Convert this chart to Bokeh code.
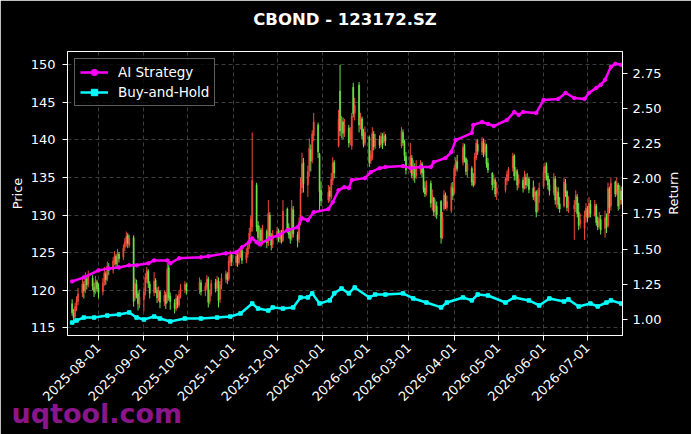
import math
import re
import pandas as pd
from bokeh.plotting import figure
from bokeh.models import (Range1d, LinearAxis, FixedTicker, DatetimeTickFormatter, Title, Label,
                          NumeralTickFormatter, Legend, LegendItem, ColumnDataSource)
from bokeh.embed import file_html
from bokeh.resources import INLINE

title_text = "CBOND - 123172.SZ"
month_ticks = ["2025-08-01", "2025-09-01", "2025-10-01", "2025-11-01", "2025-12-01", "2026-01-01",
               "2026-02-01", "2026-03-01", "2026-04-01", "2026-05-01", "2026-06-01", "2026-07-01"]
price_ticks = [115, 120, 125, 130, 135, 140, 145, 150]
return_ticks = [1.00, 1.25, 1.50, 1.75, 2.00, 2.25, 2.50, 2.75]
holidays = ["2025-10-01", "2025-10-02", "2025-10-03", "2025-10-06", "2025-10-07", "2025-10-08",
            "2026-01-01", "2026-01-02", "2026-02-16", "2026-02-17", "2026-02-18", "2026-02-19",
            "2026-02-20", "2026-02-23", "2026-04-06", "2026-05-01", "2026-05-04", "2026-05-05",
            "2026-06-19"]

open_ = [
    118.2, 117.0, 116.5, 117.6, 118.5, 119.6, 120.8, 119.9, 121.5, 120.8,
    121.6, 120.4, 119.9, 121.1, 120.3, 119.8, 121.1, 122.2, 121.5, 123.0,
    122.7, 123.8, 124.5, 123.6, 124.8, 124.4, 125.7, 126.3, 127.3, 126.0,
    127.0, 119.0, 120.8, 119.5, 118.0, 118.8, 119.9, 121.5, 122.5, 120.8,
    119.7, 121.3, 120.0, 118.9, 119.8, 118.5, 119.4, 118.6, 123.0, 119.2,
    118.3, 117.5, 119.0, 118.0, 119.3, 120.1, 120.7, 120.0, 121.0,
    119.9, 120.4, 121.5, 118.5, 119.5, 121.0, 120.3, 121.2, 118.8, 120.6,
    121.5, 122.2, 121.5, 123.7, 124.7, 123.7, 124.6, 123.7, 124.8, 125.3,
    124.1, 124.8, 125.9, 127.8, 128.4, 134.0, 128.6, 126.8, 128.0, 126.5,
    127.8, 126.4, 130.0, 127.2, 126.1, 127.2, 127.9, 126.8, 127.7, 126.6,
    130.8, 128.3, 127.5, 127.0, 130.7, 127.4, 126.8, 129.0, 133.6, 137.0,
    134.0, 135.9, 138.7, 137.4, 140.6, 142.0, 138.1, 133.3,
    132.0, 133.2, 132.4, 134.6, 137.0, 139.2, 146.5, 141.4, 142.4, 141.0,
    141.6, 140.0, 139.2, 147.0, 143.6, 147.3, 142.3, 142.8, 140.8, 139.6,
    140.4, 137.2, 137.6, 140.8, 139.2, 140.0, 139.4, 140.4, 139.7, 140.5,
    139.2, 141.0, 139.8, 137.8,
    136.2, 137.6, 135.5, 136.4, 135.2, 135.8, 136.8, 136.0, 133.6, 133.0,
    134.2, 131.8, 132.3, 130.6, 131.2, 131.8, 127.3, 130.8, 132.6, 131.0,
    130.6, 133.6, 133.0, 136.0, 137.1, 137.0, 139.3, 137.5, 135.9,
    136.2, 134.5, 134.2, 137.6, 139.4, 138.4, 139.6, 138.4, 139.2, 136.9,
    135.6, 134.2, 134.6, 132.9, 133.3, 134.6, 135.2,
    136.3, 137.9, 135.4, 135.8, 134.2, 134.6, 133.8, 135.0, 134.2, 134.8,
    133.6, 132.6, 133.1, 130.6, 132.6, 133.8, 135.6, 136.6, 135.2, 134.0,
    133.0, 134.8, 132.2, 133.0, 131.5, 131.2, 134.2, 133.1, 131.2,
    130.8, 131.4, 132.4, 130.4, 128.8, 128.2, 129.8, 130.8, 129.8, 131.5,
    130.0, 131.2, 129.2, 128.6, 129.4, 128.2, 129.8, 128.6, 133.4, 131.2,
    134.4, 133.0, 134.0, 131.4, 133.2]
high_ = [
    118.8, 117.5, 118.3, 119.2, 120.3, 121.5, 121.2, 122.4, 121.8, 122.6,
    122.0, 121.0, 121.9, 121.4, 120.9, 121.6, 123.1, 122.5, 123.8, 123.6,
    124.4, 125.2, 124.8, 125.5, 125.1, 126.1, 126.9, 127.8, 127.6, 127.4,
    127.3, 121.6, 121.4, 119.9, 120.1, 120.4, 122.3, 123.1, 122.8, 121.2,
    122.4, 121.6, 120.4, 120.5, 120.0, 120.0, 119.8, 123.6, 123.4, 119.7,
    118.8, 119.5, 119.3, 120.0, 120.8, 121.2, 121.0, 121.7, 121.4,
    121.0, 122.0, 121.8, 120.1, 121.4, 121.5, 121.9, 121.7, 121.2, 122.2,
    122.6, 122.4, 124.5, 125.3, 125.0, 125.0, 125.0, 125.5, 125.7, 125.6,
    125.6, 126.4, 128.3, 129.9, 141.0, 134.3, 129.2, 128.6, 128.3, 128.7,
    128.1, 132.0, 130.4, 127.6, 128.0, 128.4, 128.2, 128.0, 128.0, 132.0,
    131.0, 128.9, 127.9, 132.0, 131.2, 127.8, 129.7, 135.0, 138.3, 137.6,
    136.6, 140.2, 139.4, 141.3, 143.6, 142.3, 138.3, 134.5,
    134.0, 133.8, 135.6, 137.7, 137.3, 144.0, 150.0, 143.2, 143.0, 142.8,
    142.0, 141.7, 143.6, 147.6, 145.6, 147.7, 143.6, 143.1, 141.5, 141.8,
    140.6, 138.6, 141.7, 141.2, 140.8, 140.6, 141.0, 140.9, 141.1, 140.8,
    141.7, 141.4, 140.0, 138.4,
    139.6, 138.0, 137.3, 136.9, 137.3, 137.3, 137.1, 136.4, 134.5, 134.6,
    134.6, 133.4, 132.4, 132.1, 131.8, 132.0, 130.4, 133.3, 133.0, 132.6,
    134.3, 134.4, 136.6, 137.7, 138.0, 139.6, 139.5, 137.7, 137.4,
    136.5, 135.6, 138.3, 140.0, 140.1, 140.4, 140.2, 140.0, 139.5, 137.6,
    135.7, 135.4, 134.9, 134.4, 135.0, 135.9, 136.4,
    138.3, 138.1, 136.4, 136.1, 135.4, 135.0, 135.9, 135.5, 135.6, 135.1,
    134.6, 133.8, 133.3, 133.4, 134.3, 136.4, 137.0, 137.0, 135.6, 134.8,
    135.6, 135.2, 133.8, 133.7, 132.4, 135.0, 134.8, 133.3, 132.5,
    132.0, 133.3, 132.8, 131.6, 130.2, 130.6, 131.6, 131.2, 132.4, 132.0,
    132.0, 131.5, 129.8, 130.4, 130.0, 130.6, 130.2, 134.3, 133.8, 135.0,
    134.6, 135.0, 134.3, 134.0, 133.8]
low_ = [
    116.6, 115.8, 116.1, 117.2, 118.0, 119.1, 118.9, 119.6, 120.1, 120.4,
    120.0, 119.1, 119.5, 119.8, 118.9, 119.3, 120.6, 120.7, 121.2, 122.0,
    122.2, 123.3, 123.0, 123.2, 123.7, 124.0, 125.2, 125.8, 125.6, 125.7,
    117.8, 118.6, 118.9, 117.3, 117.6, 117.2, 119.3, 121.0, 120.3, 118.9,
    119.2, 119.6, 118.3, 118.5, 117.6, 117.9, 117.5, 118.3, 118.6, 117.4,
    116.9, 117.2, 117.6, 117.7, 118.9, 119.6, 119.4, 119.5, 119.3,
    119.2, 120.0, 117.7, 118.1, 119.2, 119.7, 119.9, 117.7, 118.3, 120.1,
    121.0, 120.8, 121.2, 123.2, 123.2, 123.2, 123.1, 123.4, 124.3, 123.5,
    123.6, 124.3, 125.5, 127.2, 127.8, 127.8, 126.2, 126.3, 125.8, 126.0,
    125.6, 125.9, 126.6, 125.3, 125.6, 126.6, 126.4, 126.3, 126.2, 126.4,
    127.6, 126.9, 126.2, 126.6, 127.0, 125.7, 126.3, 128.6, 132.9, 133.0,
    132.4, 135.1, 135.8, 136.9, 139.8, 137.6, 130.6, 131.2,
    131.6, 131.8, 132.1, 134.0, 134.9, 139.0, 140.5, 140.2, 140.1, 140.4,
    139.0, 139.3, 138.7, 143.0, 142.6, 141.0, 141.4, 140.1, 139.0, 139.2,
    136.4, 136.8, 137.3, 138.6, 138.8, 138.9, 139.0, 138.8, 139.3, 139.2,
    138.9, 139.2, 137.2, 135.4,
    135.6, 134.9, 134.6, 134.3, 134.8, 135.4, 135.0, 133.0, 132.4, 132.6,
    131.0, 130.6, 129.9, 129.7, 129.5, 126.2, 126.8, 130.6, 130.8, 130.6,
    130.3, 132.0, 132.8, 135.2, 135.8, 136.6, 137.0, 135.3, 135.0,
    133.9, 133.7, 133.9, 137.3, 138.0, 138.0, 137.7, 137.9, 136.3, 135.6,
    133.3, 133.6, 132.4, 132.0, 133.0, 134.0, 134.5,
    135.8, 134.6, 134.6, 133.3, 133.6, 133.0, 133.4, 133.5, 133.8, 132.9,
    132.0, 131.8, 129.7, 130.3, 131.6, 133.5, 134.6, 134.6, 133.4, 132.6,
    132.6, 131.4, 131.0, 130.8, 130.3, 131.0, 132.4, 130.5, 130.3,
    126.7, 130.4, 129.7, 128.0, 128.2, 126.7, 129.0, 129.1, 129.6, 129.7,
    129.8, 128.6, 128.0, 128.2, 127.4, 127.0, 127.6, 128.3, 130.2, 130.6,
    132.4, 132.6, 130.6, 130.8, 131.4]
close_ = [
    117.0, 116.3, 117.8, 118.6, 119.5, 120.8, 119.9, 121.6, 120.7, 121.9,
    120.5, 119.8, 121.3, 120.2, 119.6, 121.0, 122.3, 121.4, 123.2, 122.6,
    123.9, 124.6, 123.5, 124.9, 124.2, 125.6, 126.4, 127.1, 126.2, 126.9,
    118.5, 120.9, 119.4, 118.2, 119.1, 119.8, 121.7, 122.6, 120.9, 119.6,
    121.2, 120.1, 119.0, 119.9, 118.4, 119.3, 118.2, 122.8, 119.0, 118.5,
    117.6, 118.9, 118.1, 119.4, 120.2, 120.8, 119.9, 121.1, 119.8,
    120.5, 121.4, 118.4, 119.6, 120.9, 120.2, 121.3, 118.6, 120.7, 121.6,
    122.1, 121.4, 123.9, 124.6, 123.8, 124.5, 123.6, 124.9, 125.2, 124.0,
    124.9, 125.8, 127.6, 129.4, 134.6, 128.4, 127.0, 127.9, 126.6, 128.1,
    126.3, 130.2, 127.1, 126.0, 127.4, 127.8, 126.9, 127.6, 126.5, 130.5,
    128.2, 127.4, 126.8, 130.9, 127.5, 126.6, 128.9, 133.5, 136.8, 134.2,
    135.8, 138.9, 137.2, 140.8, 142.4, 138.4, 133.1, 131.9,
    133.0, 132.5, 134.8, 136.9, 135.6, 142.8, 141.2, 142.6, 140.9, 142.0,
    139.6, 141.1, 143.2, 143.5, 144.6, 142.0, 143.0, 140.6, 139.4, 141.0,
    137.0, 138.0, 140.9, 139.1, 140.2, 139.3, 140.5, 139.6, 140.6, 139.9,
    141.2, 139.6, 137.9, 136.0,
    137.8, 135.3, 136.6, 135.0, 136.5, 136.9, 135.6, 133.4, 132.8, 134.0,
    131.6, 132.6, 130.4, 131.4, 130.0, 127.0, 129.6, 132.7, 131.2, 131.8,
    133.8, 132.6, 136.2, 137.3, 136.2, 139.0, 137.4, 135.8, 136.8,
    134.4, 134.0, 137.8, 139.6, 138.5, 139.8, 138.2, 139.4, 136.8, 136.0,
    134.0, 134.8, 132.8, 133.6, 134.8, 135.4, 136.1,
    137.8, 135.2, 136.0, 134.0, 134.8, 133.6, 135.2, 134.0, 135.0, 133.4,
    132.4, 133.0, 130.4, 132.8, 133.6, 135.8, 136.5, 135.0, 134.0, 133.2,
    134.9, 132.0, 133.2, 131.4, 130.8, 134.4, 133.0, 131.0, 131.8,
    131.3, 132.6, 130.2, 128.6, 129.4, 130.0, 130.9, 129.6, 131.6, 130.2,
    131.4, 129.0, 128.4, 129.6, 128.0, 129.6, 128.4, 133.6, 131.0, 134.2,
    132.8, 134.2, 131.2, 133.4, 132.0]

ai_dates = ["2025-07-14", "2025-07-22", "2025-08-01", "2025-08-08", "2025-08-15", "2025-08-22",
            "2025-08-27", "2025-09-04", "2025-09-08", "2025-09-17", "2025-09-19", "2025-09-25",
            "2025-10-10", "2025-10-15", "2025-10-27", "2025-11-03", "2025-11-07", "2025-11-12",
            "2025-11-14", "2025-11-17", "2025-11-19", "2025-11-26", "2025-12-02", "2025-12-08",
            "2025-12-15", "2025-12-18", "2025-12-22", "2025-12-26", "2026-01-05", "2026-01-08",
            "2026-01-12", "2026-01-16", "2026-01-19", "2026-01-21", "2026-01-30", "2026-02-03",
            "2026-02-09", "2026-02-13", "2026-02-25", "2026-03-02", "2026-03-09", "2026-03-16",
            "2026-03-18", "2026-03-26", "2026-03-30", "2026-04-02", "2026-04-13", "2026-04-14",
            "2026-04-20", "2026-04-24", "2026-04-28", "2026-05-07", "2026-05-12", "2026-05-15",
            "2026-05-18", "2026-05-27", "2026-06-01", "2026-06-11", "2026-06-16", "2026-06-22",
            "2026-06-29", "2026-07-02", "2026-07-07", "2026-07-10", "2026-07-13", "2026-07-17",
            "2026-07-20", "2026-07-24"]
ai_values = [1.269, 1.298, 1.348, 1.362, 1.369, 1.384, 1.384, 1.398, 1.419, 1.419, 1.398, 1.434,
             1.441, 1.448, 1.469, 1.476, 1.512, 1.550, 1.576, 1.548, 1.534, 1.576, 1.598, 1.634,
             1.655, 1.719, 1.705, 1.762, 1.784, 1.834, 1.919, 1.941, 1.934, 1.991, 2.005, 2.048,
             2.076, 2.084, 2.091, 2.076, 2.084, 2.084, 2.119, 2.148, 2.191, 2.276, 2.326, 2.384,
             2.405, 2.391, 2.376, 2.419, 2.476, 2.455, 2.476, 2.469, 2.562, 2.569, 2.612, 2.576,
             2.569, 2.612, 2.648, 2.669, 2.705, 2.798, 2.819, 2.812]

bh_dates = ["2025-07-14", "2025-07-17", "2025-07-22", "2025-07-29", "2025-08-07", "2025-08-15",
            "2025-08-22", "2025-08-27", "2025-09-01", "2025-09-08", "2025-09-12", "2025-09-19",
            "2025-09-29", "2025-10-10", "2025-10-21", "2025-10-30", "2025-11-06", "2025-11-14",
            "2025-11-18", "2025-11-25", "2025-11-28", "2025-12-05", "2025-12-12", "2025-12-17",
            "2025-12-22", "2025-12-25", "2025-12-30", "2026-01-06", "2026-01-09", "2026-01-14",
            "2026-01-19", "2026-01-23", "2026-02-02", "2026-02-06", "2026-02-13", "2026-02-25",
            "2026-03-04", "2026-03-13", "2026-03-23", "2026-03-27", "2026-04-07", "2026-04-13",
            "2026-04-17", "2026-04-24", "2026-05-06", "2026-05-12", "2026-05-22", "2026-05-29",
            "2026-06-05", "2026-06-15", "2026-06-18", "2026-06-25", "2026-07-03", "2026-07-08",
            "2026-07-14", "2026-07-17", "2026-07-24"]
bh_values = [0.976, 0.991, 1.012, 1.012, 1.026, 1.034, 1.048, 1.012, 0.998, 1.019, 1.005, 0.984,
             1.005, 1.005, 1.012, 1.019, 1.041, 1.112, 1.076, 1.062, 1.084, 1.076, 1.084, 1.155,
             1.155, 1.184, 1.112, 1.134, 1.184, 1.219, 1.184, 1.226, 1.155, 1.176, 1.176, 1.184,
             1.148, 1.119, 1.084, 1.119, 1.155, 1.134, 1.176, 1.169, 1.119, 1.155, 1.134, 1.098,
             1.148, 1.126, 1.141, 1.091, 1.112, 1.091, 1.119, 1.134, 1.112]

# ---------------------------------------------------------------- data prep
dates = pd.bdate_range("2025-07-14", "2026-07-24")
dates = dates[~dates.isin(pd.to_datetime(holidays))]
n = min(len(dates), len(open_), len(high_), len(low_), len(close_))
UP, DOWN = "#f2493c", "#6de34a"
colors = [UP if c >= o else DOWN for o, c in zip(open_[:n], close_[:n])]
candles = ColumnDataSource(dict(
    x=list(dates[:n]), low=low_[:n], high=high_[:n],
    top=[max(o, c) for o, c in zip(open_[:n], close_[:n])],
    bottom=[min(o, c) for o, c in zip(open_[:n], close_[:n])],
    color=colors))

na = min(len(ai_dates), len(ai_values))
nb = min(len(bh_dates), len(bh_values))
ai_src = ColumnDataSource(dict(x=list(pd.to_datetime(ai_dates[:na])), y=ai_values[:na]))
bh_src = ColumnDataSource(dict(x=list(pd.to_datetime(bh_dates[:nb])), y=bh_values[:nb]))

# ---------------------------------------------------------------- figure
FONT = "DejaVu Sans"
W, H = 691, 434
ML, MR, MT, MB = 67, 69, 51, 99

p = figure(width=W, height=H, x_axis_type="datetime", output_backend="svg",
           toolbar_location=None,
           x_range=Range1d(pd.Timestamp("2025-07-10 20:00"), pd.Timestamp("2026-07-24 22:00")),
           y_range=Range1d(113.97, 151.77),
           min_border_left=ML, min_border_right=MR, min_border_top=MT, min_border_bottom=MB,
           background_fill_color="black", border_fill_color="black",
           outline_line_color="white", outline_line_width=1)
p.extra_y_ranges = {"ret": Range1d(0.884, 2.907)}

# title (outer) with a thin spacer between it and the frame
p.title = Title(text=title_text, align="center", vertical_align="bottom", standoff=0,
                text_color="white", text_font=FONT, text_font_style="bold",
                text_font_size="16.5px")
p.add_layout(Title(text=" ", text_font_size="2px", standoff=19, text_color="black"), "above")

# grid
for g in (p.xgrid, p.ygrid):
    g.grid_line_color = "#4d4d4d"
    g.grid_line_dash = "4 3"
    g.grid_line_width = 0.8

# candles
p.segment(x0="x", y0="low", x1="x", y1="high", line_color="color", line_width=1, source=candles)
p.vbar(x="x", width=0.7 * 86400000, top="top", bottom="bottom",
       fill_color="color", line_color="color", line_width=0.6, source=candles)

# return lines
l1 = p.line("x", "y", source=ai_src, y_range_name="ret", line_color="#ff00ff", line_width=2.5)
s1 = p.scatter("x", "y", source=ai_src, y_range_name="ret", marker="circle", size=3.5,
               fill_color="#ff00ff", line_color="#ff00ff")
l2 = p.line("x", "y", source=bh_src, y_range_name="ret", line_color="#00ffff", line_width=2.5)
s2 = p.scatter("x", "y", source=bh_src, y_range_name="ret", marker="square", size=3.5,
               fill_color="#00ffff", line_color="#00ffff")

# axes
ms_ticks = [pd.Timestamp(d).value // 10**6 for d in month_ticks]
xa = p.xaxis[0]
xa.ticker = FixedTicker(ticks=ms_ticks)
fmt = "%Y-%m-%d"
xa.formatter = DatetimeTickFormatter(days=fmt, months=fmt, years=fmt, hours=fmt,
                                     hourmin=fmt, minutes=fmt, minsec=fmt, seconds=fmt,
                                     milliseconds=fmt, microseconds=fmt)
xa.major_label_orientation = math.pi / 4

ya = p.yaxis[0]
ya.ticker = FixedTicker(ticks=price_ticks)

ra = LinearAxis(y_range_name="ret", ticker=FixedTicker(ticks=return_ticks),
                formatter=NumeralTickFormatter(format="0.00"))
p.add_layout(ra, "right")

for ax in (xa, ya, ra):
    ax.axis_line_color = "white"
    ax.major_tick_line_color = "white"
    ax.minor_tick_line_color = None
    ax.major_tick_out = 5
    ax.major_tick_in = 0
    ax.major_label_text_color = "white"
    ax.major_label_text_font = FONT
    ax.major_label_text_font_size = "13px"
    ax.major_label_standoff = 5
ya.major_label_standoff = 7

ya.axis_label = "Price"
ya.axis_label_text_color = "white"
ya.axis_label_text_font = FONT
ya.axis_label_text_font_style = "normal"
ya.axis_label_text_font_size = "13px"
ya.axis_label_standoff = 3

# right-hand axis title, reading bottom-to-top, kept in the right panel
ret_label_x = pd.Timestamp("2026-08-28 17:00").value // 10**6
p.add_layout(Label(x=ret_label_x, y=132.9, text="Return", angle=math.pi / 2,
                   text_align="center", text_baseline="middle", text_color="white",
                   text_font=FONT, text_font_size="13px"), "right")

# legend
legend = Legend(items=[LegendItem(label="AI Strategy", renderers=[l1, s1]),
                       LegendItem(label="Buy-and-Hold", renderers=[l2, s2])],
                location="top_left", margin=7, padding=5, spacing=4,
                label_text_color="white", label_text_font=FONT, label_text_font_size="13.5px",
                background_fill_color="black", background_fill_alpha=0.8,
                border_line_color="#bbbbbb", border_line_width=1,
                glyph_width=28, glyph_height=16, label_height=16, label_standoff=10)
p.add_layout(legend)

# watermark below the date labels
wm = Title(text="uqtool.com", align="left", offset=-56, standoff=-40,
           text_color="#8b158b", text_font=FONT, text_font_style="bold", text_font_size="27px")
p.add_layout(wm, "below")

html = file_html(p, INLINE, title=title_text)
html = re.sub(r"<body([^>]*)>", r'<body\1 style="background-color:#000000;">', html, count=1)
open("out.html", "w").write(html)
